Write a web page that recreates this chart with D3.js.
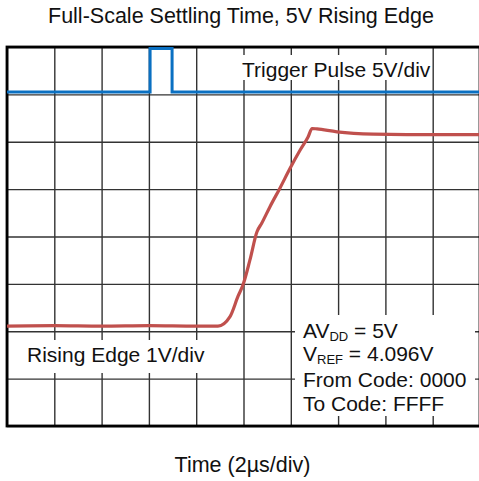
<!DOCTYPE html>
<html lang="en">
<head>
<meta charset="UTF-8">
<title>Full-Scale Settling Time</title>
<script src="https://cdn.jsdelivr.net/npm/d3@7"></script>
<style>
  body { margin: 0; background: #fff; }
  text { font-family: Arial, "Liberation Sans", sans-serif; fill: #111; }
</style>
</head>
<body>
<div id="container"></div>
<script>
  const width = 479;
  const height = 481;
  const margin = { top: 47, left: 7, right: -1, bottom: 55 };

  // time in µs (2µs/div), 10 divisions
  const timeTicks = [0, 2, 4, 6, 8, 10, 12, 14, 16, 18, 20];
  // vertical divisions
  const divTicks = [0, 1, 2, 3, 4, 5, 6, 7, 8];

  // rising edge, volts (1V/div)
  const edgeTime = [0, 2, 4, 6, 8, 8.92, 9.43, 9.77, 9.98, 10.27, 10.57, 10.77, 11.12, 11.54, 11.97, 12.39, 12.73, 12.9, 13.11, 13.95, 15.48, 16.91, 18.31, 20];
  const edgeVolts = [0.0, 0.01, 0.0, 0.01, 0.0, 0.0, 0.2, 0.63, 0.87, 1.39, 1.99, 2.17, 2.52, 2.91, 3.33, 3.71, 3.99, 4.17, 4.16, 4.1, 4.05, 4.04, 4.04, 4.04];

  // trigger pulse, volts (5V/div)
  const trigTime = [0, 6.05, 6.05, 6.98, 6.98, 20];
  const trigVolts = [0, 0, 4.6, 4.6, 0, 0];

  const edgeOffset = 2.11;  // divisions
  const trigOffset = 7.05;
  const trigScale = 5;      // V/div

  const svg = d3.select('#container').append('svg')
    .attr('width', width)
    .attr('height', height);

  const x = d3.scaleLinear().domain([0, 20]).range([margin.left, width - margin.right]);
  const y = d3.scaleLinear().domain([0, 8]).range([height - margin.bottom, margin.top]);

  // grid
  svg.append('g')
    .attr('transform', `translate(0,${y(0)})`)
    .call(d3.axisBottom(x).tickValues(timeTicks).tickSize(-(y(0) - y(8))).tickFormat(''))
    .call(g => g.select('.domain').remove())
    .call(g => g.selectAll('line').attr('stroke', '#333').attr('stroke-width', 1.4));
  svg.append('g')
    .attr('transform', `translate(${x(0)},0)`)
    .call(d3.axisLeft(y).tickValues(divTicks).tickSize(-(x(20) - x(0))).tickFormat(''))
    .call(g => g.select('.domain').remove())
    .call(g => g.selectAll('line').attr('stroke', '#333').attr('stroke-width', 1.4));

  // white boxes behind labels
  const boxes = [
    [242, 55, 190, 25],
    [25, 340, 190, 33],
    [295, 315, 180, 101]
  ];
  svg.append('g').selectAll('rect').data(boxes).join('rect')
    .attr('x', d => d[0]).attr('y', d => d[1])
    .attr('width', d => d[2]).attr('height', d => d[3])
    .attr('fill', '#fff');

  // frame
  svg.append('rect')
    .attr('x', x(0)).attr('y', y(8))
    .attr('width', x(20) - x(0)).attr('height', y(0) - y(8))
    .attr('fill', 'none').attr('stroke', '#000').attr('stroke-width', 2.8);

  const trigLine = d3.line()
    .x((d, i) => x(trigTime[i]))
    .y(d => y(trigOffset + d / trigScale));
  svg.append('path')
    .datum(trigVolts)
    .attr('d', trigLine)
    .attr('fill', 'none')
    .attr('stroke', '#0a70c2')
    .attr('stroke-width', 3);

  const edgeLine = d3.line()
    .x((d, i) => x(edgeTime[i]))
    .y(d => y(edgeOffset + d))
    .curve(d3.curveMonotoneX);
  svg.append('path')
    .datum(edgeVolts)
    .attr('d', edgeLine)
    .attr('fill', 'none')
    .attr('stroke', '#c0504d')
    .attr('stroke-width', 3.2);

  // labels
  svg.append('text')
    .attr('x', 241).attr('y', 23)
    .attr('text-anchor', 'middle')
    .attr('font-size', 21.5)
    .text('Full-Scale Settling Time, 5V Rising Edge');

  svg.append('text')
    .attr('x', 242.5).attr('y', 472)
    .attr('text-anchor', 'middle')
    .attr('font-size', 21.5)
    .text('Time (2µs/div)');

  svg.append('text')
    .attr('x', 242).attr('y', 77)
    .attr('font-size', 21)
    .text('Trigger Pulse 5V/div');

  svg.append('text')
    .attr('x', 27).attr('y', 362)
    .attr('font-size', 21)
    .text('Rising Edge 1V/div');

  const note = svg.append('g').attr('font-size', 21);
  const l1 = note.append('text').attr('x', 303).attr('y', 338);
  l1.append('tspan').text('AV');
  l1.append('tspan').attr('font-size', 13).attr('dy', 3).text('DD');
  l1.append('tspan').attr('dy', -3).text(' = 5V');
  const l2 = note.append('text').attr('x', 303).attr('y', 361);
  l2.append('tspan').text('V');
  l2.append('tspan').attr('font-size', 13).attr('dy', 3).text('REF');
  l2.append('tspan').attr('dy', -3).text(' = 4.096V');
  note.append('text').attr('x', 303).attr('y', 387).text('From Code: 0000');
  note.append('text').attr('x', 303).attr('y', 411).text('To Code: FFFF');
</script>
</body>
</html>
